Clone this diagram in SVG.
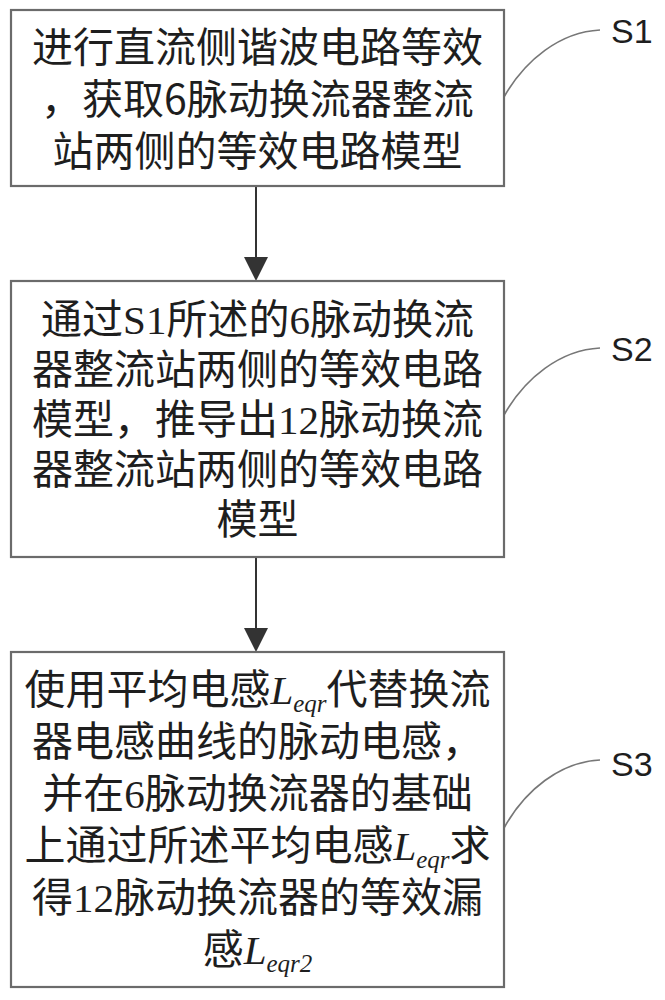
<svg xmlns="http://www.w3.org/2000/svg" width="665" height="1000" viewBox="0 0 665 1000">
<style>
.box{fill:#fff;stroke:#6b6b6b;stroke-width:2.2}
.t{font-family:"Noto Sans CJK SC","Noto Sans",sans-serif;font-size:41px;fill:#1e1e1e;text-anchor:middle}
.lat{font-family:"Liberation Serif",serif}
.it{font-family:"Liberation Serif",serif;font-style:italic}
.sub{font-family:"Liberation Serif",serif;font-style:italic;font-size:25px}
.lbl{font-family:"Liberation Sans",sans-serif;font-size:34px;fill:#1e1e1e}
.lead{fill:none;stroke:#777;stroke-width:1.6}
.conn{stroke:#333;stroke-width:2}
</style>
<rect width="665" height="1000" fill="#fff"/>
<g id="connectors">
<line class="conn" x1="256" y1="186" x2="256" y2="258"/>
<path d="M244,257 L268,257 L256,281 Z" fill="#333"/>
<line class="conn" x1="256" y1="557" x2="256" y2="629"/>
<path d="M244,628 L268,628 L256,652 Z" fill="#333"/>
<path class="lead" d="M504,97 C525,60 560,32 600,30"/>
<path class="lead" d="M504,415 C525,378 560,350 600,348"/>
<path class="lead" d="M504,828 C525,790 560,762 600,760"/>
</g>
<g id="S1">
<rect class="box" x="11" y="10" width="493" height="176"/>
<text class="t" x="257.5" y="62">进行直流侧谐波电路等效</text>
<text class="t" x="257.5" y="114">，获取6脉动换流器整流</text>
<text class="t" x="257.5" y="166">站两侧的等效电路模型</text>
<text class="lbl" x="611" y="43">S1</text>
</g>
<g id="S2">
<rect class="box" x="11" y="281" width="493" height="276"/>
<text class="t" x="257.5" y="334">通过<tspan class="lat">S1</tspan>所述的<tspan class="lat">6</tspan>脉动换流</text>
<text class="t" x="257.5" y="384">器整流站两侧的等效电路</text>
<text class="t" x="257.5" y="434">模型，推导出<tspan class="lat">12</tspan>脉动换流</text>
<text class="t" x="257.5" y="484">器整流站两侧的等效电路</text>
<text class="t" x="257.5" y="534">模型</text>
<text class="lbl" x="611" y="361">S2</text>
</g>
<g id="S3">
<rect class="box" x="11" y="652" width="493" height="335"/>
<text class="t" x="257.5" y="704">使用平均电感<tspan class="it">L</tspan><tspan class="sub" dy="8">eqr</tspan><tspan dy="-8">代替换流</tspan></text>
<text class="t" x="257.5" y="756">器电感曲线的脉动电感，</text>
<text class="t" x="257.5" y="808">并在<tspan class="lat">6</tspan>脉动换流器的基础</text>
<text class="t" x="257.5" y="860">上通过所述平均电感<tspan class="it">L</tspan><tspan class="sub" dy="8">eqr</tspan><tspan dy="-8">求</tspan></text>
<text class="t" x="257.5" y="912">得<tspan class="lat">12</tspan>脉动换流器的等效漏</text>
<text class="t" x="257.5" y="964">感<tspan class="it">L</tspan><tspan class="sub" dy="8">eqr2</tspan></text>
<text class="lbl" x="611" y="776">S3</text>
</g>
</svg>
